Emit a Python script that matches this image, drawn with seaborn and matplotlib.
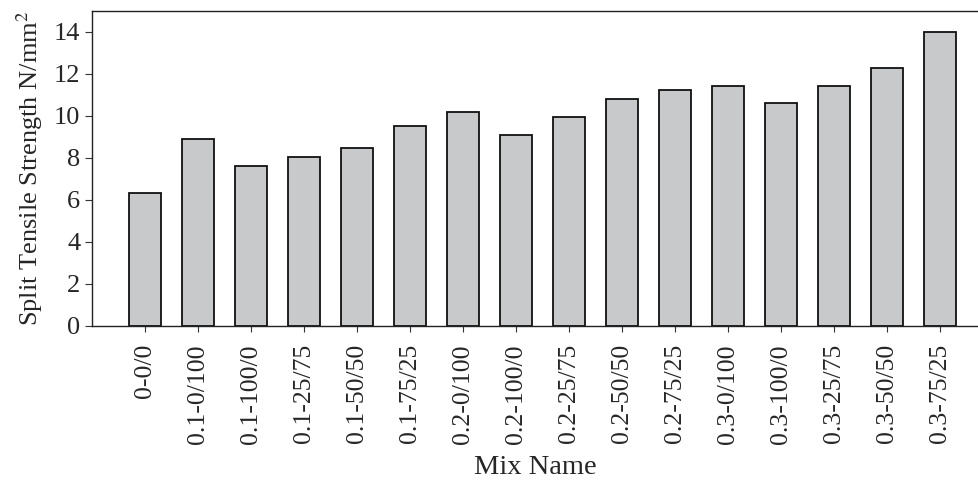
import pandas as pd
import matplotlib.pyplot as plt
import seaborn as sns

mixes = ["0-0/0", "0.1-0/100", "0.1-100/0", "0.1-25/75", "0.1-50/50", "0.1-75/25",
         "0.2-0/100", "0.2-100/0", "0.2-25/75", "0.2-50/50", "0.2-75/25",
         "0.3-0/100", "0.3-100/0", "0.3-25/75", "0.3-50/50", "0.3-75/25"]
strength = [6.35, 8.9, 7.63, 8.04, 8.48, 9.53, 10.17, 9.1, 9.96, 10.8, 11.25,
            11.45, 10.6, 11.45, 12.3, 14.0]

df = pd.DataFrame({"Mix": mixes, "Strength": strength})

sns.set_style("ticks")
plt.rcParams['font.family'] = ['Liberation Serif', 'DejaVu Serif']
plt.rcParams['mathtext.fontset'] = 'stix'

fig = plt.figure(figsize=(9.79, 4.83), dpi=100)
ax = fig.add_axes([92 / 979, 1 - 326 / 483, 1 - 92 / 979, (326 - 11) / 483])

sns.barplot(data=df, x="Mix", y="Strength", color="#c8c9cb", saturation=1,
            edgecolor="#111111", linewidth=1.3, width=0.6, ax=ax)

ax.set_xlim(-1.0, 15.74)
ax.set_ylim(0, 15)
ax.set_yticks(range(0, 15, 2))
ax.set_xlabel("Mix Name", fontsize=20.5, labelpad=8)
ax.set_ylabel("Split Tensile Strength N/mm$^2$", fontsize=19, labelpad=6)
ax.tick_params(axis='x', labelsize=18.5, rotation=90, length=4, width=0.8,
               color="#333333", pad=9)
ax.tick_params(axis='y', labelsize=19, length=5, width=0.8, color="#333333")

for side in ["left", "top", "bottom"]:
    ax.spines[side].set_color("#222222")
    ax.spines[side].set_linewidth(1.0)
ax.spines["right"].set_visible(False)

plt.savefig("out.png", dpi=100)
plt.close()
